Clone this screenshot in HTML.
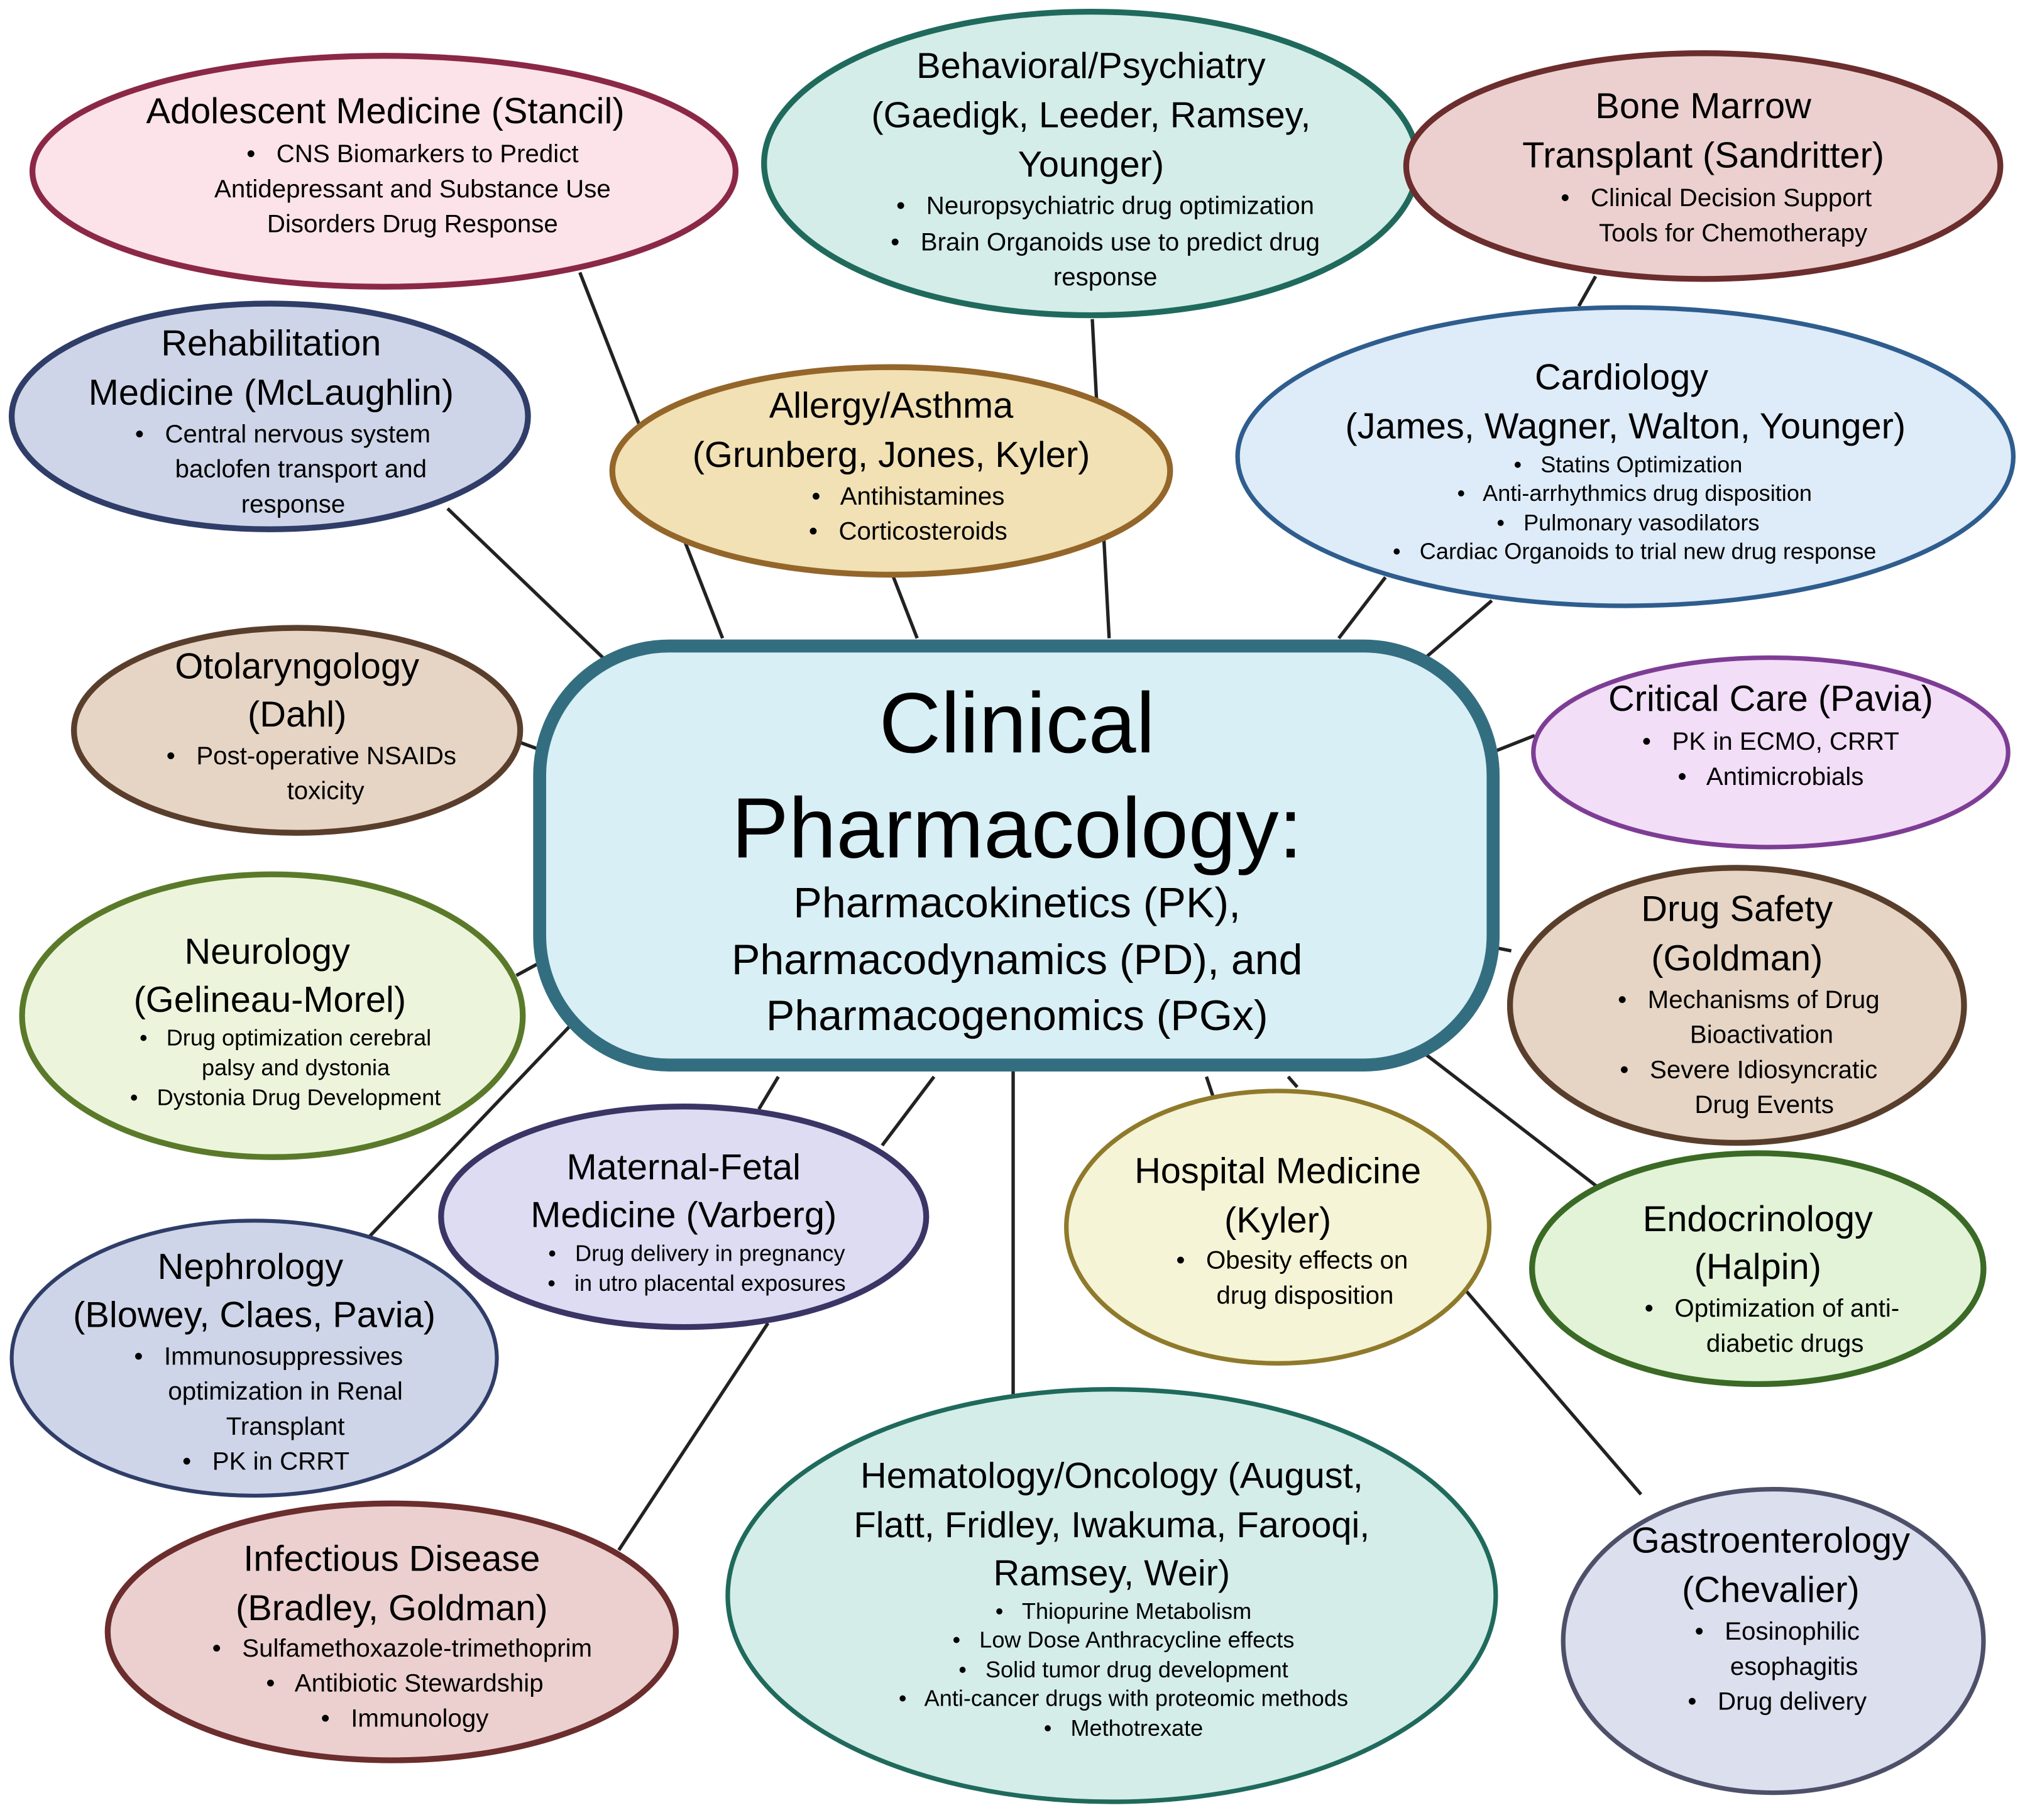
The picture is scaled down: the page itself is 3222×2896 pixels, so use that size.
<!DOCTYPE html>
<html><head><meta charset="utf-8"><style>
html,body{margin:0;padding:0;background:#fff;}
svg{display:block;}
text{font-family:"Liberation Sans",sans-serif;fill:#000;text-anchor:middle;white-space:pre;}
.t{font-size:28px;}
.b{font-size:19.5px;}
.s{font-size:17.5px;}
</style></head><body>
<svg width="3222" height="2896" viewBox="0 0 1561 1403" xmlns="http://www.w3.org/2000/svg">
<g stroke="#222" stroke-width="2.6">
<line x1="447" y1="210" x2="557" y2="492"/>
<line x1="842" y1="246" x2="855" y2="492"/>
<line x1="688" y1="443" x2="707" y2="492"/>
<line x1="1230" y1="213" x2="1217" y2="236"/>
<line x1="1068" y1="445" x2="1032" y2="492"/>
<line x1="1150" y1="463" x2="1093" y2="512"/>
<line x1="345" y1="392" x2="470" y2="512"/>
<line x1="400" y1="572" x2="422" y2="580"/>
<line x1="1183" y1="567" x2="1150" y2="580"/>
<line x1="398" y1="752" x2="420" y2="740"/>
<line x1="1165" y1="733" x2="1150" y2="730"/>
<line x1="285" y1="953" x2="445" y2="785"/>
<line x1="585" y1="855" x2="600" y2="830"/>
<line x1="680" y1="883" x2="720" y2="830"/>
<line x1="477" y1="1195" x2="592" y2="1020"/>
<line x1="781" y1="825" x2="781" y2="1075"/>
<line x1="930" y1="830" x2="935" y2="845"/>
<line x1="1238" y1="920" x2="1098" y2="812"/>
<line x1="993" y1="830" x2="1000" y2="838"/>
<line x1="1265" y1="1152" x2="1130" y2="995"/>
</g>
<g stroke-width="4.5">
<ellipse cx="296" cy="132" rx="271" ry="89" fill="#fbe3e9" stroke="#8b2846"/>
<ellipse cx="841" cy="126" rx="252" ry="117" fill="#d4ede8" stroke="#1f6a5c"/>
<ellipse cx="1313" cy="128" rx="229" ry="87" fill="#ecd0d0" stroke="#6b2d2d"/>
<ellipse cx="208" cy="321" rx="199" ry="87" fill="#cfd5e8" stroke="#2f3d68"/>
<ellipse cx="687" cy="363" rx="215" ry="80" fill="#f1e1b4" stroke="#94662a"/>
<ellipse cx="1253" cy="352" rx="299" ry="115" fill="#deebf8" stroke="#2e5d8e" stroke-width="3.5"/>
<ellipse cx="229" cy="563" rx="172" ry="79" fill="#e6d5c5" stroke="#5a3e2c"/>
<ellipse cx="1365" cy="580" rx="183" ry="73" fill="#f2def7" stroke="#7e3d95" stroke-width="3.5"/>
<ellipse cx="210" cy="783" rx="193" ry="109" fill="#ecf5dc" stroke="#5a7a2a"/>
<ellipse cx="1339" cy="775" rx="175" ry="106" fill="#e6d5c5" stroke="#5a3e2c"/>
<ellipse cx="527" cy="938" rx="187" ry="85" fill="#dddcf2" stroke="#3b3566"/>
<ellipse cx="985" cy="946" rx="163" ry="105" fill="#f6f4d6" stroke="#8f7a2c" stroke-width="3.5"/>
<ellipse cx="1355" cy="978" rx="174" ry="89" fill="#e2f3d8" stroke="#3a6a25"/>
<ellipse cx="196" cy="1047" rx="187" ry="106" fill="#cfd5e8" stroke="#2f3d68" stroke-width="3"/>
<ellipse cx="302" cy="1258" rx="219" ry="99" fill="#ecd0d0" stroke="#6b2d2d"/>
<ellipse cx="857" cy="1230" rx="296" ry="159" fill="#d4ede8" stroke="#1f6a5c" stroke-width="3.5"/>
<ellipse cx="1367" cy="1265" rx="162" ry="117" fill="#dcdfee" stroke="#4d5068" stroke-width="3.5"/>
</g>
<rect x="416" y="498" width="735" height="323" rx="100" fill="#d8eff5" stroke="#336e80" stroke-width="10"/>
<text x="784" y="580" style="font-size:66px">Clinical</text>
<text x="784" y="661" style="font-size:66px">Pharmacology:</text>
<text x="784" y="707" style="font-size:33px">Pharmacokinetics (PK),</text>
<text x="784" y="751" style="font-size:33px">Pharmacodynamics (PD), and</text>
<text x="784" y="794" style="font-size:33px">Pharmacogenomics (PGx)</text>

<text class="t" x="297" y="95">Adolescent Medicine (Stancil)</text>
<text class="b" x="318" y="125">•   CNS Biomarkers to Predict</text>
<text class="b" x="318" y="152">Antidepressant and Substance Use</text>
<text class="b" x="318" y="179">Disorders Drug Response</text>

<text class="t" x="841" y="60">Behavioral/Psychiatry</text>
<text class="t" x="841" y="98">(Gaedigk, Leeder, Ramsey,</text>
<text class="t" x="841" y="136">Younger)</text>
<text class="b" x="852" y="165">•   Neuropsychiatric drug optimization</text>
<text class="b" x="852" y="193">•   Brain Organoids use to predict drug</text>
<text class="b" x="852" y="220">response</text>

<text class="t" x="1313" y="91">Bone Marrow</text>
<text class="t" x="1313" y="129">Transplant (Sandritter)</text>
<text class="b" x="1323" y="159">•   Clinical Decision Support</text>
<text class="b" x="1336" y="186">Tools for Chemotherapy</text>

<text class="t" x="209" y="274">Rehabilitation</text>
<text class="t" x="209" y="312">Medicine (McLaughlin)</text>
<text class="b" x="218" y="341">•   Central nervous system</text>
<text class="b" x="232" y="368">baclofen transport and</text>
<text class="b" x="226" y="395">response</text>

<text class="t" x="687" y="322">Allergy/Asthma</text>
<text class="t" x="687" y="360">(Grunberg, Jones, Kyler)</text>
<text class="b" x="700" y="389">•   Antihistamines</text>
<text class="b" x="700" y="416">•   Corticosteroids</text>

<text class="t" x="1250" y="300">Cardiology</text>
<text class="t" x="1253" y="338">(James, Wagner, Walton, Younger)</text>
<text class="s" x="1255" y="364">•   Statins Optimization</text>
<text class="s" x="1260" y="386">•   Anti-arrhythmics drug disposition</text>
<text class="s" x="1255" y="409">•   Pulmonary vasodilators</text>
<text class="s" x="1260" y="431">•   Cardiac Organoids to trial new drug response</text>

<text class="t" x="229" y="523">Otolaryngology</text>
<text class="t" x="229" y="560">(Dahl)</text>
<text class="b" x="240" y="589">•   Post-operative NSAIDs</text>
<text class="b" x="251" y="616">toxicity</text>

<text class="t" x="1365" y="548">Critical Care (Pavia)</text>
<text class="b" x="1365" y="578">•   PK in ECMO, CRRT</text>
<text class="b" x="1365" y="605">•   Antimicrobials</text>

<text class="t" x="206" y="743">Neurology</text>
<text class="t" x="208" y="780">(Gelineau-Morel)</text>
<text class="s" x="220" y="806">•   Drug optimization cerebral</text>
<text class="s" x="228" y="829">palsy and dystonia</text>
<text class="s" x="220" y="852">•   Dystonia Drug Development</text>

<text class="t" x="1339" y="710">Drug Safety</text>
<text class="t" x="1339" y="748">(Goldman)</text>
<text class="b" x="1348" y="777">•   Mechanisms of Drug</text>
<text class="b" x="1358" y="804">Bioactivation</text>
<text class="b" x="1348" y="831">•   Severe Idiosyncratic</text>
<text class="b" x="1360" y="858">Drug Events</text>

<text class="t" x="527" y="909">Maternal-Fetal</text>
<text class="t" x="527" y="946">Medicine (Varberg)</text>
<text class="s" x="537" y="972">•   Drug delivery in pregnancy</text>
<text class="s" x="537" y="995">•   in utro placental exposures</text>

<text class="t" x="985" y="912">Hospital Medicine</text>
<text class="t" x="985" y="950">(Kyler)</text>
<text class="b" x="996" y="978">•   Obesity effects on</text>
<text class="b" x="1006" y="1005">drug disposition</text>

<text class="t" x="1355" y="949">Endocrinology</text>
<text class="t" x="1355" y="986">(Halpin)</text>
<text class="b" x="1366" y="1015">•   Optimization of anti-</text>
<text class="b" x="1376" y="1042">diabetic drugs</text>

<text class="t" x="193" y="986">Nephrology</text>
<text class="t" x="196" y="1023">(Blowey, Claes, Pavia)</text>
<text class="b" x="207" y="1052">•   Immunosuppressives</text>
<text class="b" x="220" y="1079">optimization in Renal</text>
<text class="b" x="220" y="1106">Transplant</text>
<text class="b" x="205" y="1133">•   PK in CRRT</text>

<text class="t" x="302" y="1211">Infectious Disease</text>
<text class="t" x="302" y="1249">(Bradley, Goldman)</text>
<text class="b" x="310" y="1277">•   Sulfamethoxazole-trimethoprim</text>
<text class="b" x="312" y="1304">•   Antibiotic Stewardship</text>
<text class="b" x="312" y="1331">•   Immunology</text>

<text class="t" x="857" y="1147">Hematology/Oncology (August,</text>
<text class="t" x="857" y="1185">Flatt, Fridley, Iwakuma, Farooqi,</text>
<text class="t" x="857" y="1222">Ramsey, Weir)</text>
<text class="s" x="866" y="1248">•   Thiopurine Metabolism</text>
<text class="s" x="866" y="1270">•   Low Dose Anthracycline effects</text>
<text class="s" x="866" y="1293">•   Solid tumor drug development</text>
<text class="s" x="866" y="1315">•   Anti-cancer drugs with proteomic methods</text>
<text class="s" x="866" y="1338">•   Methotrexate</text>

<text class="t" x="1365" y="1197">Gastroenterology</text>
<text class="t" x="1365" y="1235">(Chevalier)</text>
<text class="b" x="1370" y="1264">•   Eosinophilic</text>
<text class="b" x="1383" y="1291">esophagitis</text>
<text class="b" x="1370" y="1318">•   Drug delivery</text>
</svg>
</body></html>
